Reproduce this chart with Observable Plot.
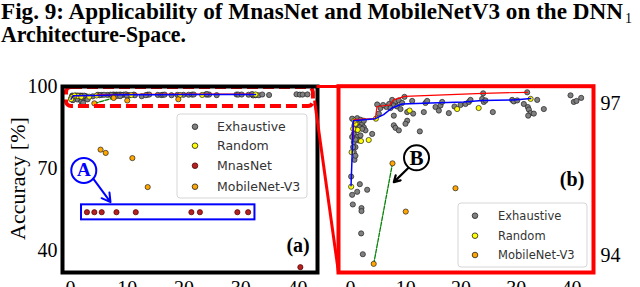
<!DOCTYPE html>
<html><head><meta charset="utf-8">
<script src="https://cdn.jsdelivr.net/npm/d3@7"></script>
<script src="https://cdn.jsdelivr.net/npm/@observablehq/plot@0.6"></script>
<style>
html,body{margin:0;padding:0;background:#fff;overflow:hidden;}
#wrap{position:relative;width:640px;height:287px;overflow:hidden;background:#fff;}
.abs{position:absolute;}
</style></head><body>
<div id="wrap">
<svg id="title" class="abs" style="left:0;top:0" width="640" height="50">
  <text x="1" y="19" font-family="Liberation Serif" font-weight="bold" font-size="23" textLength="622" lengthAdjust="spacingAndGlyphs">Fig. 9: Applicability of MnasNet and MobileNetV3 on the DNN</text>
  <text x="625" y="23" font-family="Liberation Serif" font-size="14">1</text>
  <text x="1" y="42" font-family="Liberation Serif" font-weight="bold" font-size="23" textLength="185" lengthAdjust="spacingAndGlyphs">Architecture-Space.</text>
</svg>
</div>
<script>
// ---------- data ----------
const xTicks = [0, 10, 20, 30, 40];
const yTicksA = [40, 70, 100];
const yTicksB = [94, 97];
const seriesNames = ["Exhaustive", "Random", "MnasNet", "MobileNet-V3"];

const exhaustive = [
[0.30,96.70],[0.90,96.66],[1.51,96.63],[2.11,96.60],[2.41,96.53],[2.71,96.47],[0.60,96.40],[1.21,96.34],[1.81,96.37],[0.60,96.24],[0.90,96.14],[0.60,96.04],[0.72,95.89],[1.51,96.27],[1.21,96.71],[1.81,96.68],[0.72,96.57],[1.69,96.53],[1.21,96.47],[2.11,96.50],[0.90,96.29],[0.48,96.14],[3.92,96.40],[2.41,96.66],[0.30,96.34],[0.90,95.97],
[4.83,96.98],[5.43,96.91],[5.13,96.80],[6.5,96.93],[7.0,96.99],[5.9,96.97],[7.54,97.07],[8.14,97.03],[8.75,97.06],[9.35,97.01],[7.84,96.96],[8.45,96.94],[7.24,96.91],[9.05,96.89],[9.77,97.13],[11.16,97.05],[11.34,96.80],[10.26,96.83],[7.84,96.76],[10.26,96.66],[9.95,96.60],[7.84,96.57],[8.14,96.52],[8.75,96.47],[12.55,96.45],[13.57,97.01],[13.88,97.05],[13.27,96.83],[15.38,96.93],[15.99,96.86],[16.29,96.96],[16.59,97.03],[17.80,96.81],[18.82,96.94],[19.91,96.97],[20.81,96.99],[21.42,97.03],[21.72,97.07],[23.83,97.09],[24.13,97.03],[24.43,97.06],[24.01,97.20],[25.76,96.83],[29.26,97.07],[29.56,97.04],[30.17,97.06],[31.37,96.99],[32.10,96.93],[32.28,96.88],[32.58,96.81],[32.16,96.76],[33.18,96.80],[33.79,97.07],[34.99,96.89],[31.98,97.22],[39.82,97.16],[40.42,97.03],[40.90,97.05],[41.75,97.11],
[1.69,95.41],[1.21,95.26],[0.30,95.20],[3.02,95.30],[0.42,95.01],[1.99,94.94],[1.99,94.88],[1.93,94.44],[2.23,94.03],[0.12,95.56]
];
const random = [[0.9,96.60],[1.3,96.48],[0.5,96.50],[0.7,96.66],[1.9,96.26],[3.3,96.28],[0.2,96.04],[0.12,95.36],[4.6,96.70],[10.7,96.86],[19.3,96.89],[23.2,96.91],[32.6,97.09]];
const mnasnet = [[2.9,54],[4.2,54],[5.5,54],[8.1,54],[11.5,54],[21.3,54],[22.8,54],[29.4,54],[31.3,54],[40.5,33.9]];
const mobilenet = [[4.2,93.84],[7.6,95.82],[10.0,94.87],[19.0,95.33],[5.3,76.9],[6.2,75.7],[10.9,73.8],[13.6,63.2]];
const redFront = [[0.48,96.30],[0.6,96.68],[4.5,96.70],[4.8,96.94],[7.1,96.97],[7.8,97.07],[9.8,97.14],[24.0,97.20],[32.0,97.22]];
const blueFront = [[0.1,95.38],[0.3,96.0],[0.5,96.66],[4.5,96.70],[6.0,96.78],[7.5,96.91],[9.35,96.99],[14.5,97.01],[20.5,97.03],[23.8,97.06],[29.6,97.07],[32.6,97.10]];
const greenLink = [[4.2,93.84],[7.6,95.82]];

// ---------- styles ----------
const colors = {"Exhaustive":"#808080","Random":"#ffff00","MnasNet":"#b22222","MobileNet-V3":"#ffa500"};
const X = d => d[0], Y = d => d[1];
const dotStyle = name => ({x:X, y:Y, r:2.6, fill:colors[name], stroke:"#222", strokeWidth:0.7});
const serif = "Liberation Serif";
const fmt = d => String(d);

function dataMarks(clip){
  return [
    Plot.dot(exhaustive, {...dotStyle("Exhaustive"), clip}),
    Plot.dot(random, {...dotStyle("Random"), clip}),
    Plot.line(redFront, {x:X, y:Y, stroke:"#ff0000", strokeWidth:1.2, clip}),
    Plot.line(blueFront, {x:X, y:Y, stroke:"#0000ff", strokeWidth:1.5, clip}),
    Plot.line(greenLink, {x:X, y:Y, stroke:"#008000", strokeWidth:1.3, strokeDasharray:"4,1.5", clip}),
    Plot.dot(mnasnet, {...dotStyle("MnasNet"), stroke:"#500", clip}),
    Plot.dot(mobilenet, {...dotStyle("MobileNet-V3"), clip})
  ];
}

// ---------- panel (a) ----------
const plotA = Plot.plot({
  width:330, height:240, marginLeft:62, marginRight:13, marginTop:16, marginBottom:38,
  x:{domain:[-1.41,43.52]}, y:{domain:[31.94,100]},
  style:{fontFamily:serif, fontSize:"20px", color:"#000", background:"transparent", overflow:"visible"},
  marks:[
    Plot.axisY({ticks:yTicksA, tickSize:0, tickPadding:5, label:null, fontSize:20, tickFormat:fmt}),
    Plot.axisX({ticks:xTicks, tickSize:0, tickPadding:8, label:null, fontSize:20, tickFormat:fmt}),
    Plot.text(["Accuracy [%]"], {x:()=>-9.3, y:()=>66.3, rotate:-90, fontSize:22, fontFamily:serif, lineAnchor:"middle", textAnchor:"middle"}),
    ...dataMarks(false),
    // red dashed zoom box
    Plot.rect([0], {x1:()=>-0.7, x2:()=>42.8, y1:()=>92.7, y2:()=>99.6, rx:5, fill:"none", stroke:"#ff0000", strokeWidth:4, strokeDasharray:"11,5"}),
    // A annotation
    Plot.rect([0], {x1:()=>1.94, x2:()=>32.5, y1:()=>51.2, y2:()=>56.7, fill:"none", stroke:"#0000ff", strokeWidth:2}),
    Plot.arrow([0], {x1:()=>4.0, y1:()=>66.3, x2:()=>7.05, y2:()=>57.7, stroke:"#0000ff", strokeWidth:2, headLength:9}),
    Plot.dot([0], {x:()=>2.34, y:()=>69.3, r:12.5, fill:"white", stroke:"#0000ff", strokeWidth:2}),
    Plot.text(["A"], {x:()=>2.34, y:()=>69.3, fontSize:19, fontWeight:"bold", fontFamily:serif, fill:"#0000ff"}),
    Plot.text(["(a)"], {x:()=>40.1, y:()=>41.8, fontSize:20, fontWeight:"bold", fontFamily:serif}),
    Plot.frame({stroke:"#000", strokeWidth:4}),
    // connectors to inset
    Plot.link([0], {x1:()=>43.35, y1:()=>100, x2:()=>47.22, y2:()=>100, stroke:"#ff0000", strokeWidth:3}),
    Plot.link([0], {x1:()=>43.0, y1:()=>94.88, x2:()=>47.22, y2:()=>31.94, stroke:"#ff0000", strokeWidth:3})
  ]
});
plotA.style.position = "absolute"; plotA.style.left = "0px"; plotA.style.top = "70px";

// ---------- panel (b) ----------
const plotB = Plot.plot({
  width:310, height:240, marginLeft:8, marginRight:47, marginTop:15.7, marginBottom:38,
  x:{domain:[-2.17,43.98]}, y:{domain:[93.67,97.34]},
  style:{fontFamily:serif, fontSize:"20px", color:"#000", background:"transparent", overflow:"visible"},
  marks:[
    Plot.axisY({anchor:"right", ticks:yTicksB, tickSize:0, tickPadding:7, label:null, fontSize:20, tickFormat:fmt}),
    Plot.axisX({ticks:xTicks, tickSize:0, tickPadding:8, label:null, fontSize:20, tickFormat:fmt}),
    ...dataMarks(true),
    Plot.arrow([0], {x1:()=>10.55, y1:()=>95.74, x2:()=>7.84, y2:()=>95.45, stroke:"#000", strokeWidth:2.2, headLength:10}),
    Plot.dot([0], {x:()=>11.95, y:()=>95.93, r:12.5, fill:"white", stroke:"#000", strokeWidth:2}),
    Plot.text(["B"], {x:()=>11.95, y:()=>95.93, fontSize:21, fontWeight:"bold", fontFamily:serif}),
    Plot.text(["(b)"], {x:()=>40.1, y:()=>95.51, fontSize:20, fontWeight:"bold", fontFamily:serif}),
    Plot.frame({stroke:"#ff0000", strokeWidth:4})
  ]
});
plotB.style.position = "absolute"; plotB.style.left = "330px"; plotB.style.top = "70px";

const wrap = document.getElementById("wrap");
wrap.appendChild(plotA);
wrap.appendChild(plotB);

// ---------- legends ----------
function legend(names, box, rowsY, markerX, textX, fs){
  const ns = "http://www.w3.org/2000/svg";
  const svg = document.createElementNS(ns, "svg");
  svg.setAttribute("width", 640); svg.setAttribute("height", 287);
  svg.style.position = "absolute"; svg.style.left = "0px"; svg.style.top = "0px";
  const r = document.createElementNS(ns, "rect");
  r.setAttribute("x", box[0]); r.setAttribute("y", box[1]); r.setAttribute("width", box[2]); r.setAttribute("height", box[3]);
  r.setAttribute("rx", 3); r.setAttribute("fill", "white"); r.setAttribute("fill-opacity", 0.9); r.setAttribute("stroke", "#d6d6d6");
  svg.appendChild(r);
  names.forEach((n, i) => {
    const c = document.createElementNS(ns, "circle");
    c.setAttribute("cx", markerX); c.setAttribute("cy", rowsY[i]); c.setAttribute("r", 2.8);
    c.setAttribute("fill", colors[n]); c.setAttribute("stroke", n === "MnasNet" ? "#500" : "#222"); c.setAttribute("stroke-width", 0.8);
    svg.appendChild(c);
    const t = document.createElementNS(ns, "text");
    t.setAttribute("x", textX); t.setAttribute("y", rowsY[i]); t.setAttribute("dominant-baseline", "central");
    t.setAttribute("font-family", "DejaVu Sans"); t.setAttribute("font-size", fs); t.setAttribute("fill", "#333");
    t.textContent = n;
    svg.appendChild(t);
  });
  wrap.appendChild(svg);
}
legend(seriesNames, [177,114,130,84], [126.7,145.7,165.7,186.7], 195, 217, 12.5);
legend(["Exhaustive","Random","MobileNet-V3"], [458,203,129,64], [215.7,235.7,255], 475, 498, 11.5);
</script>
</body></html>
